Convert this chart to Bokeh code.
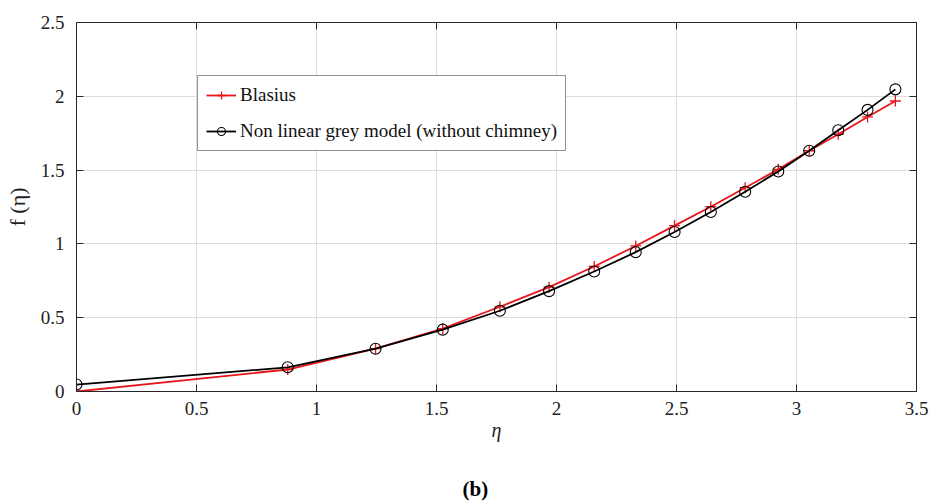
from bokeh.plotting import figure
from bokeh.models import (Range1d, LinearAxis, SingleIntervalTicker, Legend, LegendItem, Title,
                          CustomLabelingPolicy)
from bokeh.embed import file_html
from bokeh.resources import INLINE

eta = [0.0, 0.88, 1.246, 1.526, 1.764, 1.969, 2.157, 2.330, 2.492, 2.643, 2.786, 2.924, 3.053, 3.174, 3.296, 3.412]
f_blasius = [0.0, 0.149, 0.290, 0.426, 0.574, 0.707, 0.847, 0.986, 1.124, 1.252, 1.381, 1.505, 1.631, 1.743, 1.860, 1.968]
f_model = [0.047, 0.164, 0.290, 0.419, 0.547, 0.680, 0.813, 0.944, 1.081, 1.216, 1.353, 1.491, 1.631, 1.770, 1.908, 2.047]

FONT = "'Liberation Serif', 'Times New Roman', serif"
AX = "#262626"

p = figure(width=932, height=501, output_backend="svg", toolbar_location=None,
           x_range=Range1d(0, 3.5), y_range=Range1d(0, 2.5),
           min_border_left=76, min_border_right=16, min_border_top=22, min_border_bottom=20)
p.outline_line_color = AX
p.outline_line_width = 1
p.background_fill_color = "white"
p.border_fill_color = "white"

def style_axis(ax, labels=True):
    ax.ticker = SingleIntervalTicker(interval=0.5)
    ax.axis_line_color = AX
    ax.major_tick_line_color = AX
    ax.major_tick_in = 7
    ax.major_tick_out = 0
    ax.minor_tick_line_color = None
    ax.major_label_text_font = FONT
    ax.major_label_text_color = "#222222"
    ax.major_label_text_font_size = "19px" if labels else "1px"
    if not labels:
        ax.major_label_policy = CustomLabelingPolicy(
            code="for (let i = 0; i < indices.size; i++) { indices.unset(i) } return indices")
        ax.major_label_standoff = 0

for ax in p.xaxis:
    style_axis(ax)
    ax.major_label_standoff = 6
    ax.axis_label = "η"
    ax.axis_label_text_font = FONT
    ax.axis_label_text_font_style = "italic"
    ax.axis_label_text_font_size = "20px"
    ax.axis_label_standoff = 1
    ax.axis_label_text_color = "#222222"
for ax in p.yaxis:
    style_axis(ax)
    ax.major_label_standoff = 8
    ax.axis_label = "f (η)"
    ax.axis_label_text_font = FONT
    ax.axis_label_text_font_style = "normal"
    ax.axis_label_text_font_size = "22px"
    ax.axis_label_standoff = 8
    ax.axis_label_text_color = "#222222"

top = LinearAxis()
style_axis(top, labels=False)
p.add_layout(top, "above")
right = LinearAxis()
style_axis(right, labels=False)
p.add_layout(right, "right")

p.grid.grid_line_color = "#dedede"
p.grid.grid_line_width = 1
for g in p.grid:
    g.ticker = SingleIntervalTicker(interval=0.5)

RED = "#e8151b"
r1 = p.line(eta, f_blasius, line_color=RED, line_width=1.8)
r2 = p.scatter(eta, f_blasius, marker="cross", size=11, line_color=RED, line_width=1.3)
b1 = p.line(eta, f_model, line_color="black", line_width=1.8)
b2 = p.scatter(eta, f_model, marker="circle", size=11, line_color="black",
               fill_color=None, line_width=1.1)

legend = Legend(items=[LegendItem(label="Blasius", renderers=[r1, r2]),
                       LegendItem(label="Non linear grey model (without chimney)", renderers=[b1, b2])],
                location=(121, 240))
legend.label_text_font = FONT
legend.label_text_font_size = "19px"
legend.label_text_color = "#111111"
legend.glyph_width = 30
legend.glyph_height = 20
legend.label_height = 20
legend.label_standoff = 4
legend.spacing = 14
legend.padding = 8
legend.margin = 0
legend.border_line_color = AX
legend.border_line_width = 1
legend.background_fill_color = "white"
legend.background_fill_alpha = 1
p.add_layout(legend, "center")

cap = Title(text="\n(b)", align="left", text_font=FONT, text_font_size="21px",
            text_font_style="bold", text_color="black", standoff=0, offset=386,
            text_line_height=1.35, vertical_align="bottom")
p.add_layout(cap, "below")

open("out.html", "w").write(file_html(p, INLINE))
